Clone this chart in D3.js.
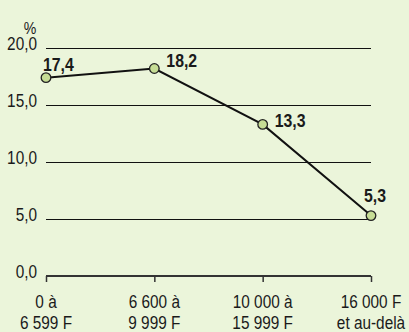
<!DOCTYPE html>
<html><head><meta charset="utf-8">
<script src="https://cdn.jsdelivr.net/npm/d3@7"></script>
<style>
html,body{margin:0;padding:0;background:#ebf5da;}
svg{display:block;}
text{font-family:"Liberation Sans",Arial,sans-serif;}
</style></head>
<body><svg id="c" width="409" height="332"></svg>
<script>
const categories = [["0 à","6 599 F"],["6 600 à","9 999 F"],["10 000 à","15 999 F"],["16 000 F","et au-delà"]];
const values = [17.4, 18.2, 13.3, 5.3];
const valueLabels = ["17,4","18,2","13,3","5,3"];
const yTicks = [0,5,10,15,20];
const yTickLabels = ["0,0","5,0","10,0","15,0","20,0"];

const svg = d3.select("#c");
svg.append("rect").attr("width",409).attr("height",332).attr("fill","#ebf5da");

const x = d3.scalePoint().domain(d3.range(categories.length)).range([46,371]);
const y = d3.scaleLinear().domain([0,20]).range([276,48]);
const SX = 0.83;
function txt(xp, yp, s, size, anchor, weight, sx){
  return svg.append("text")
    .attr("transform",`translate(${xp},${yp}) scale(${sx||SX},1)`)
    .attr("text-anchor",anchor).attr("font-size",size)
    .attr("font-weight",weight||"normal").attr("fill","#1a1a1a").text(s);
}

// gridlines
svg.selectAll("line.grid").data(yTicks.filter(d=>d>0)).enter().append("line")
  .attr("x1",46).attr("x2",371).attr("y1",d=>Math.round(y(d))+0.5).attr("y2",d=>Math.round(y(d))+0.5)
  .attr("stroke","#111").attr("stroke-width",1);

// y tick labels
yTicks.forEach((d,i)=>txt(37, y(d)+1.5, yTickLabels[i], 18.5, "end"));
txt(30, 34, "%", 17, "middle");

// x axis
const xa = d3.axisBottom(x).tickSize(6).tickFormat("");
const g = svg.append("g").attr("transform",`translate(0,${y(0)})`).call(xa);
g.select(".domain").attr("stroke","#333").attr("stroke-width",2).attr("d","M46,0H371");
g.selectAll(".tick line").attr("stroke","#333").attr("stroke-width",1.5);

// x labels
categories.forEach((c,i)=>{
  c.forEach((t,j)=>txt(x(i), 307.5+j*21.5, t, 18.5, "middle"));
});

// line
svg.append("path").datum(values)
  .attr("d",d3.line().x((d,i)=>x(i)).y(d=>y(d)))
  .attr("fill","none").attr("stroke","#111").attr("stroke-width",2);

svg.selectAll("circle").data(values).enter().append("circle")
  .attr("cx",(d,i)=>x(i)).attr("cy",d=>y(d)).attr("r",4.8)
  .attr("fill","#c6dd95").attr("stroke","#222").attr("stroke-width",1.3);

// value labels
const offs = [[-3,-6.5,"start"],[12,-2,"start"],[12,3,"start"],[4,-13.5,"middle"]];
values.forEach((d,i)=>txt(x(i)+offs[i][0], y(d)+offs[i][1], valueLabels[i], 18, offs[i][2], "bold", 0.88));
</script></body></html>
